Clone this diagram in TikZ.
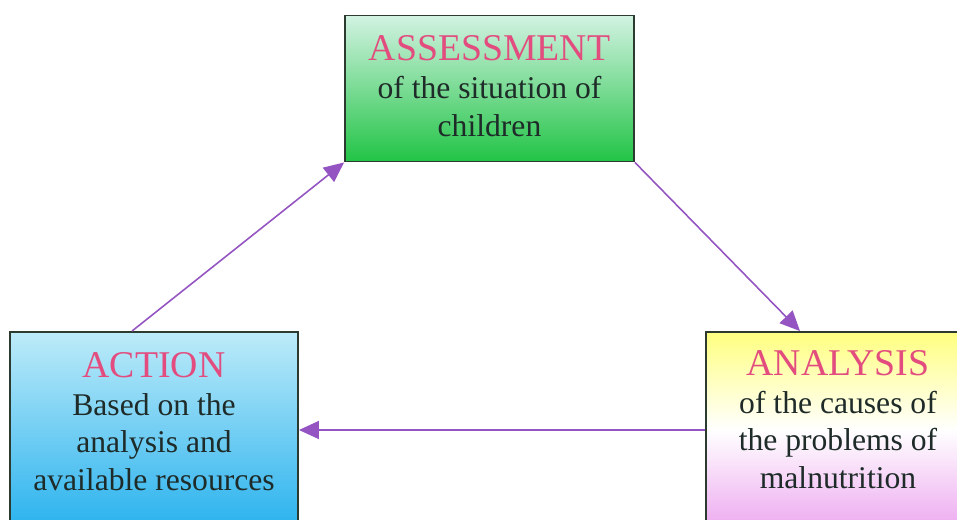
\documentclass[tikz,border=0pt]{standalone}
\usepackage{fontspec}
\setmainfont{Liberation Serif}
\usetikzlibrary{arrows.meta,positioning}
\definecolor{titlepink}{HTML}{E24C7E}
\definecolor{bodyink}{HTML}{1E2B28}
\definecolor{flowviolet}{HTML}{9455C2}
\definecolor{boxedge}{HTML}{2C3A30}
\definecolor{assesstop}{HTML}{D2F2E2}
\definecolor{assessbottom}{HTML}{22C446}
\definecolor{actiontop}{HTML}{BDEBF9}
\definecolor{actionbottom}{HTML}{2AB2EE}
\definecolor{analysistop}{HTML}{FFFF80}
\definecolor{analysisbottom}{HTML}{EDAAF0}
\tikzset{
  box/.style={draw=boxedge, line width=1.1pt, inner sep=0pt},
  boxtext/.style={align=center, inner sep=0pt, text=bodyink,
    font=\fontsize{18pt}{21.5pt}\selectfont},
  flow/.style={draw=flowviolet, line width=0.9pt,
    -{Triangle[length=0.4cm,width=0.36cm]}}
}
\newcommand{\heading}[1]{{\fontsize{21.5pt}{21.5pt}\selectfont\color{titlepink}#1}}
\begin{document}
\begin{tikzpicture}[x=0.02cm,y=-0.02cm]
  \useasboundingbox (0,0) rectangle (957,520);
  \clip (0,0) rectangle (957,520);
  \node[box, minimum width=5.78cm, minimum height=2.92cm,
    top color=assesstop, bottom color=assessbottom]
    (assess) at (489.5,88.5) {};
  \node[box, minimum width=5.76cm, minimum height=3.92cm,
    top color=actiontop, bottom color=actionbottom]
    (action) at (154,430) {};
  \node[box, minimum width=5.28cm, minimum height=3.92cm,
    top color=analysistop, bottom color=analysisbottom, middle color=white]
    (analysis) at (838,430) {};
  \node[boxtext, below=0.42cm of assess.north] (assesstext)
    {\heading{ASSESSMENT}\\of the situation of\\children};
  \node[boxtext, below=0.42cm of action.north] (actiontext)
    {\heading{ACTION}\\Based on the\\analysis and\\available resources};
  \node[boxtext, below=0.38cm of analysis.north] (analysistext)
    {\heading{ANALYSIS}\\of the causes of\\the problems of\\malnutrition};
  \draw[flow] ([xshift=-0.44cm]action.north) -- (assess.south west);
  \draw[flow] (assess.south east) -- ([xshift=-0.76cm]analysis.north);
  \draw[flow] (analysis.west) -- (action.east);
\end{tikzpicture}
\end{document}
